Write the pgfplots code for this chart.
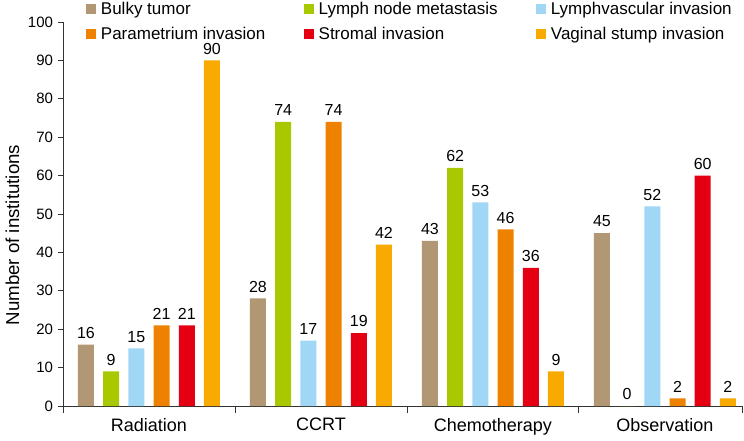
\documentclass[border=0pt]{standalone}
\usepackage{pgfplots}
\pgfplotsset{compat=1.18}
\usepackage{fontspec}
\setmainfont{Liberation Sans}

\definecolor{cBulky}{RGB}{178,151,116}
\definecolor{cLymph}{RGB}{170,200,0}
\definecolor{cLVSI}{RGB}{160,215,245}
\definecolor{cParam}{RGB}{238,130,0}
\definecolor{cStrom}{RGB}{228,0,18}
\definecolor{cVag}{RGB}{248,170,0}

\begin{document}
\begin{tikzpicture}
\begin{axis}[
    at={(0,0)}, anchor=south west,
    scale only axis,
    width=509.25pt, height=288pt,
    xmin=-0.5, xmax=3.448,
    ymin=0, ymax=100,
    axis lines=left,
    axis line style={-, black!80, line width=0.7pt},
    ytick={0,10,...,100},
    xtick={0,1,2,3},
    xticklabels={Radiation,CCRT,Chemotherapy,Observation},
    minor xtick={-0.5,0.5,1.5,2.5,3.448},
    major x tick style={draw=none},
    tick align=outside,
    major tick length=4pt,
    minor tick length=5pt,
    tick style={black!80, line width=0.7pt},
    xticklabel style={font=\fontsize{13.5}{15}\selectfont, yshift=-1.5pt},
    yticklabel style={font=\fontsize{11.25}{13}\selectfont},
    /pgf/number format/assume math mode=true,
    ylabel={Number of institutions},
    ylabel style={at={(axis description cs:-0.0746,0.445)}, anchor=center,
        font=\fontsize{14}{16}\selectfont},
    ybar, bar width=12pt,
    nodes near coords,
    every node near coord/.append style={font=\fontsize{12}{14}\selectfont, black, yshift=1pt},
    legend columns=3,
    legend cell align=left,
    legend image code/.code={\fill[#1, draw=none] (0pt,-3.75pt) rectangle (7.5pt,3.75pt);},
    legend style={at={(axis description cs:0.0339,1.06)}, anchor=north west,
        draw=none, fill=none, inner sep=0pt, row sep=4pt,
        font=\fontsize{12.75}{14}\selectfont,
        /tikz/every odd column/.append style={column sep=1.5pt},
        /tikz/every even column/.append style={column sep=27pt}},
]
\addplot[fill=cBulky, draw=none, bar shift=-47.25pt] coordinates {(0,16) (1,28) (2,43) (3,45)};
\addlegendentry{Bulky tumor}
\addplot[fill=cLymph, draw=none, bar shift=-28.35pt] coordinates {(0,9) (1,74) (2,62) (3,0)};
\addlegendentry{Lymph node metastasis}
\addplot[fill=cLVSI, draw=none, bar shift=-9.45pt] coordinates {(0,15) (1,17) (2,53) (3,52)};
\addlegendentry{Lymphvascular invasion}
\addplot[fill=cParam, draw=none, bar shift=9.45pt] coordinates {(0,21) (1,74) (2,46) (3,2)};
\addlegendentry{Parametrium invasion}
\addplot[fill=cStrom, draw=none, bar shift=28.35pt] coordinates {(0,21) (1,19) (2,36) (3,60)};
\addlegendentry{Stromal invasion}
\addplot[fill=cVag, draw=none, bar shift=47.25pt] coordinates {(0,90) (1,42) (2,9) (3,2)};
\addlegendentry{Vaginal stump invasion}
\end{axis}
\pgfresetboundingbox
\useasboundingbox (-47.25pt,-25.5pt) rectangle (510.75pt,304.5pt);
\end{tikzpicture}
\end{document}
